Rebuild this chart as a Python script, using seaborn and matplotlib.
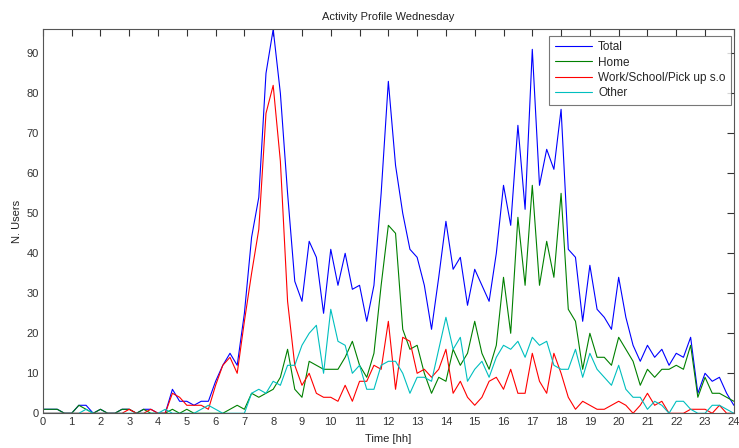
import numpy as np
import pandas as pd
import matplotlib
matplotlib.use("Agg")
import matplotlib.pyplot as plt
import seaborn as sns

# hour of day, one point every 15 minutes
hours = np.arange(0, 24.01, 0.25)

total = [1, 1, 1, 0, 0, 2, 2, 0, 1, 0, 0, 1, 1, 0, 1, 1,
         0, 0, 6, 3, 3, 2, 3, 3, 8, 12, 15, 12, 25, 44, 54, 85,
         96, 80, 55, 33, 28, 43, 39, 25, 41, 32, 40, 31, 32, 23, 32, 55,
         83, 62, 50, 41, 39, 32, 21, 34, 48, 36, 39, 27, 36, 32, 28, 40,
         57, 47, 72, 51, 91, 57, 66, 61, 76, 41, 39, 23, 37, 26, 24, 21,
         34, 24, 17, 13, 17, 14, 16, 12, 15, 14, 19, 5, 10, 8, 9, 5, 2]
home = [1, 1, 1, 0, 0, 2, 1, 0, 1, 0, 0, 1, 1, 0, 1, 0,
        0, 0, 1, 0, 1, 0, 0, 0, 0, 0, 1, 2, 1, 5, 4, 5,
        6, 9, 16, 6, 4, 13, 12, 11, 11, 11, 14, 18, 12, 9, 15, 32,
        47, 45, 21, 16, 17, 10, 5, 9, 8, 16, 12, 15, 23, 15, 11, 17,
        34, 20, 49, 32, 57, 32, 43, 34, 55, 26, 23, 11, 20, 14, 14, 12,
        19, 16, 13, 7, 11, 9, 11, 11, 12, 11, 17, 4, 9, 5, 5, 4, 3]
work = [0, 0, 0, 0, 0, 0, 0, 0, 0, 0, 0, 0, 1, 0, 0, 1,
        0, 0, 5, 4, 2, 2, 2, 1, 7, 12, 14, 10, 23, 35, 46, 75,
        82, 63, 28, 12, 7, 10, 5, 4, 4, 3, 7, 3, 8, 8, 12, 11,
        23, 6, 19, 18, 10, 11, 9, 11, 16, 5, 8, 4, 2, 4, 8, 9,
        6, 11, 5, 5, 15, 8, 5, 15, 10, 4, 1, 3, 2, 1, 1, 2,
        3, 2, 0, 2, 5, 2, 3, 0, 0, 0, 1, 1, 1, 0, 2, 0, 0]
other = [0, 0, 0, 0, 0, 0, 1, 0, 0, 0, 0, 0, 0, 0, 0, 0,
         0, 1, 0, 0, 0, 0, 1, 2, 1, 0, 0, 0, 0, 5, 6, 5,
         8, 7, 12, 12, 17, 20, 22, 10, 26, 18, 17, 10, 12, 6, 6, 12,
         13, 13, 10, 5, 9, 9, 8, 16, 24, 16, 19, 8, 11, 13, 9, 14,
         17, 16, 18, 14, 19, 17, 18, 12, 11, 11, 16, 9, 15, 11, 9, 7,
         12, 6, 4, 4, 1, 3, 2, 0, 3, 3, 1, 0, 0, 2, 2, 1, 0]

series = {"Total": total, "Home": home,
          "Work/School/Pick up s.o": work, "Other": other}
colors = {"Total": "#0000ff", "Home": "#008000",
          "Work/School/Pick up s.o": "#ff0000", "Other": "#00bfbf"}

df = pd.DataFrame({"Time": np.tile(hours, len(series)),
                   "Users": np.concatenate([series[k] for k in series]),
                   "Activity": np.repeat(list(series.keys()), len(hours))})

sns.set_style("white")
plt.rcParams["font.family"] = ["Liberation Sans", "DejaVu Sans"]

fig = plt.figure(figsize=(7.39, 4.48), dpi=100)
ax = fig.add_axes([0.058, 0.0775, 0.935, 0.857])

sns.lineplot(data=df, x="Time", y="Users", hue="Activity", palette=colors,
             hue_order=list(series.keys()), linewidth=0.8, ax=ax, legend=False)

# MATLAB look: box, ticks inward on all sides
ax.set_xlim(0, 24)
ax.set_ylim(0, 96)
ax.set_xticks(range(0, 25))
ax.set_yticks(range(0, 91, 10))
ax.tick_params(direction="in", length=5, width=0.8, top=True, right=True,
               labelsize=8, colors="#333333", pad=3)
for s in ax.spines.values():
    s.set_visible(True)
    s.set_color("#555555")
    s.set_linewidth(0.8)

ax.set_title("Activity Profile Wednesday", fontsize=8, color="#222222", pad=7)
ax.set_xlabel("Time [hh]", fontsize=8, color="#222222", labelpad=5)
ax.set_ylabel("N. Users", fontsize=8, color="#222222", labelpad=3)

handles = [plt.Line2D([], [], color=colors[k], lw=0.8) for k in series]
leg = ax.legend(handles, list(series.keys()), loc="upper right",
                bbox_to_anchor=(731 / 739, 1 - 36 / 448),
                bbox_transform=fig.transFigure, borderaxespad=0,
                fontsize=8.5, frameon=True, fancybox=False, handlelength=3.2,
                labelspacing=0.28, handletextpad=0.5, borderpad=0.45)
leg.get_frame().set_edgecolor("#555555")
leg.get_frame().set_linewidth(0.8)

fig.savefig("out.png", dpi=100)
